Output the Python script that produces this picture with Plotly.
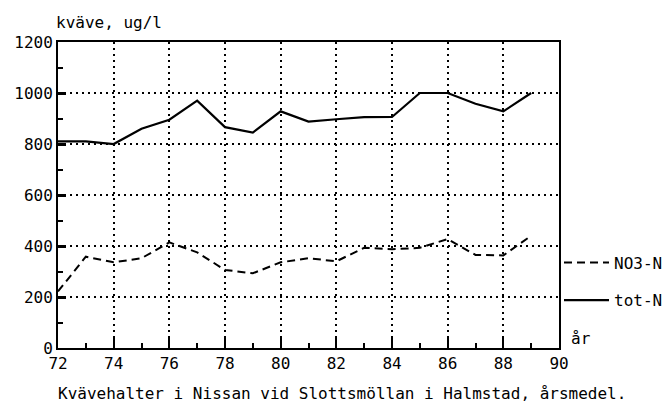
import plotly.graph_objects as go

years = [72, 73, 74, 75, 76, 77, 78, 79, 80, 81, 82, 83, 84, 85, 86, 87, 88, 89]
tot_n = [810, 810, 800, 860, 895, 970, 866, 845, 928, 888, 897, 905, 906, 1000, 1000, 958, 928, 1000]
no3_n = [222, 358, 336, 352, 414, 375, 306, 293, 336, 352, 340, 393, 387, 393, 427, 365, 363, 440]

x_ticks = [72, 74, 76, 78, 80, 82, 84, 86, 88, 90]
x_labels = ["72", "74", "76", "78", "80", "82", "84", "86", "88", "90"]
y_ticks = [0, 200, 400, 600, 800, 1000, 1200]
y_labels = ["0", "200", "400", "600", "800", "1000", "1200"]

FONT = "DejaVu Sans Mono"

fig = go.Figure()
fig.add_trace(go.Scatter(x=years, y=no3_n, mode="lines", name="NO3-N",
                         line=dict(color="black", width=2, dash="8px,5px"),
                         legendgroup="a"))
fig.add_trace(go.Scatter(x=years, y=tot_n, mode="lines", name="tot-N",
                         line=dict(color="black", width=2.2),
                         legendgroup="b"))

fig.update_layout(
    width=664, height=408,
    margin=dict(l=58, r=105, t=42, b=60, autoexpand=False),
    paper_bgcolor="white", plot_bgcolor="white",
    font=dict(family=FONT, size=16, color="black"),
    showlegend=True,
    legend=dict(x=1.0, xanchor="left", y=0.335, yanchor="top",
                bgcolor="rgba(0,0,0,0)", font=dict(family=FONT, size=16),
                tracegroupgap=14, itemwidth=45),
    xaxis=dict(range=[72, 90], tickmode="array", tickvals=x_ticks, ticktext=x_labels,
               showgrid=True, gridcolor="black", griddash="2px,4px", gridwidth=1.5,
               showline=True, linecolor="black", linewidth=2, mirror=True,
               ticks="inside", ticklen=10, tickwidth=2, tickcolor="black",
               minor=dict(ticks="inside", ticklen=5, tickwidth=1.5, tickcolor="black",
                          dtick=1, tick0=72, showgrid=False),
               zeroline=False, tickfont=dict(size=16)),
    yaxis=dict(range=[0, 1200], tickmode="array", tickvals=y_ticks, ticktext=y_labels,
               showgrid=True, gridcolor="black", griddash="2px,4px", gridwidth=1.5,
               showline=True, linecolor="black", linewidth=2, mirror=True,
               ticks="inside", ticklen=8, tickwidth=2.5, tickcolor="black",
               minor=dict(ticks="inside", ticklen=5, tickwidth=1.5, tickcolor="black",
                          dtick=100, tick0=0, showgrid=False),
               zeroline=False, tickfont=dict(size=16)),
    annotations=[
        dict(text="kväve, ug/l", xref="paper", yref="paper", x=0, y=1,
             xanchor="left", yanchor="bottom", xshift=-4, yshift=8, showarrow=False,
             font=dict(family=FONT, size=16)),
        dict(text="år", xref="paper", yref="paper", x=1, y=0,
             xanchor="left", yanchor="bottom", xshift=10, yshift=-2, showarrow=False,
             font=dict(family=FONT, size=16)),
        dict(text="Kvävehalter i Nissan vid Slottsmöllan i Halmstad, årsmedel.",
             xref="paper", yref="paper", x=0, y=0, xanchor="left", yanchor="middle",
             xshift=-2, yshift=-45, showarrow=False, font=dict(family=FONT, size=16)),
    ],
)

fig.write_html("out.html")
